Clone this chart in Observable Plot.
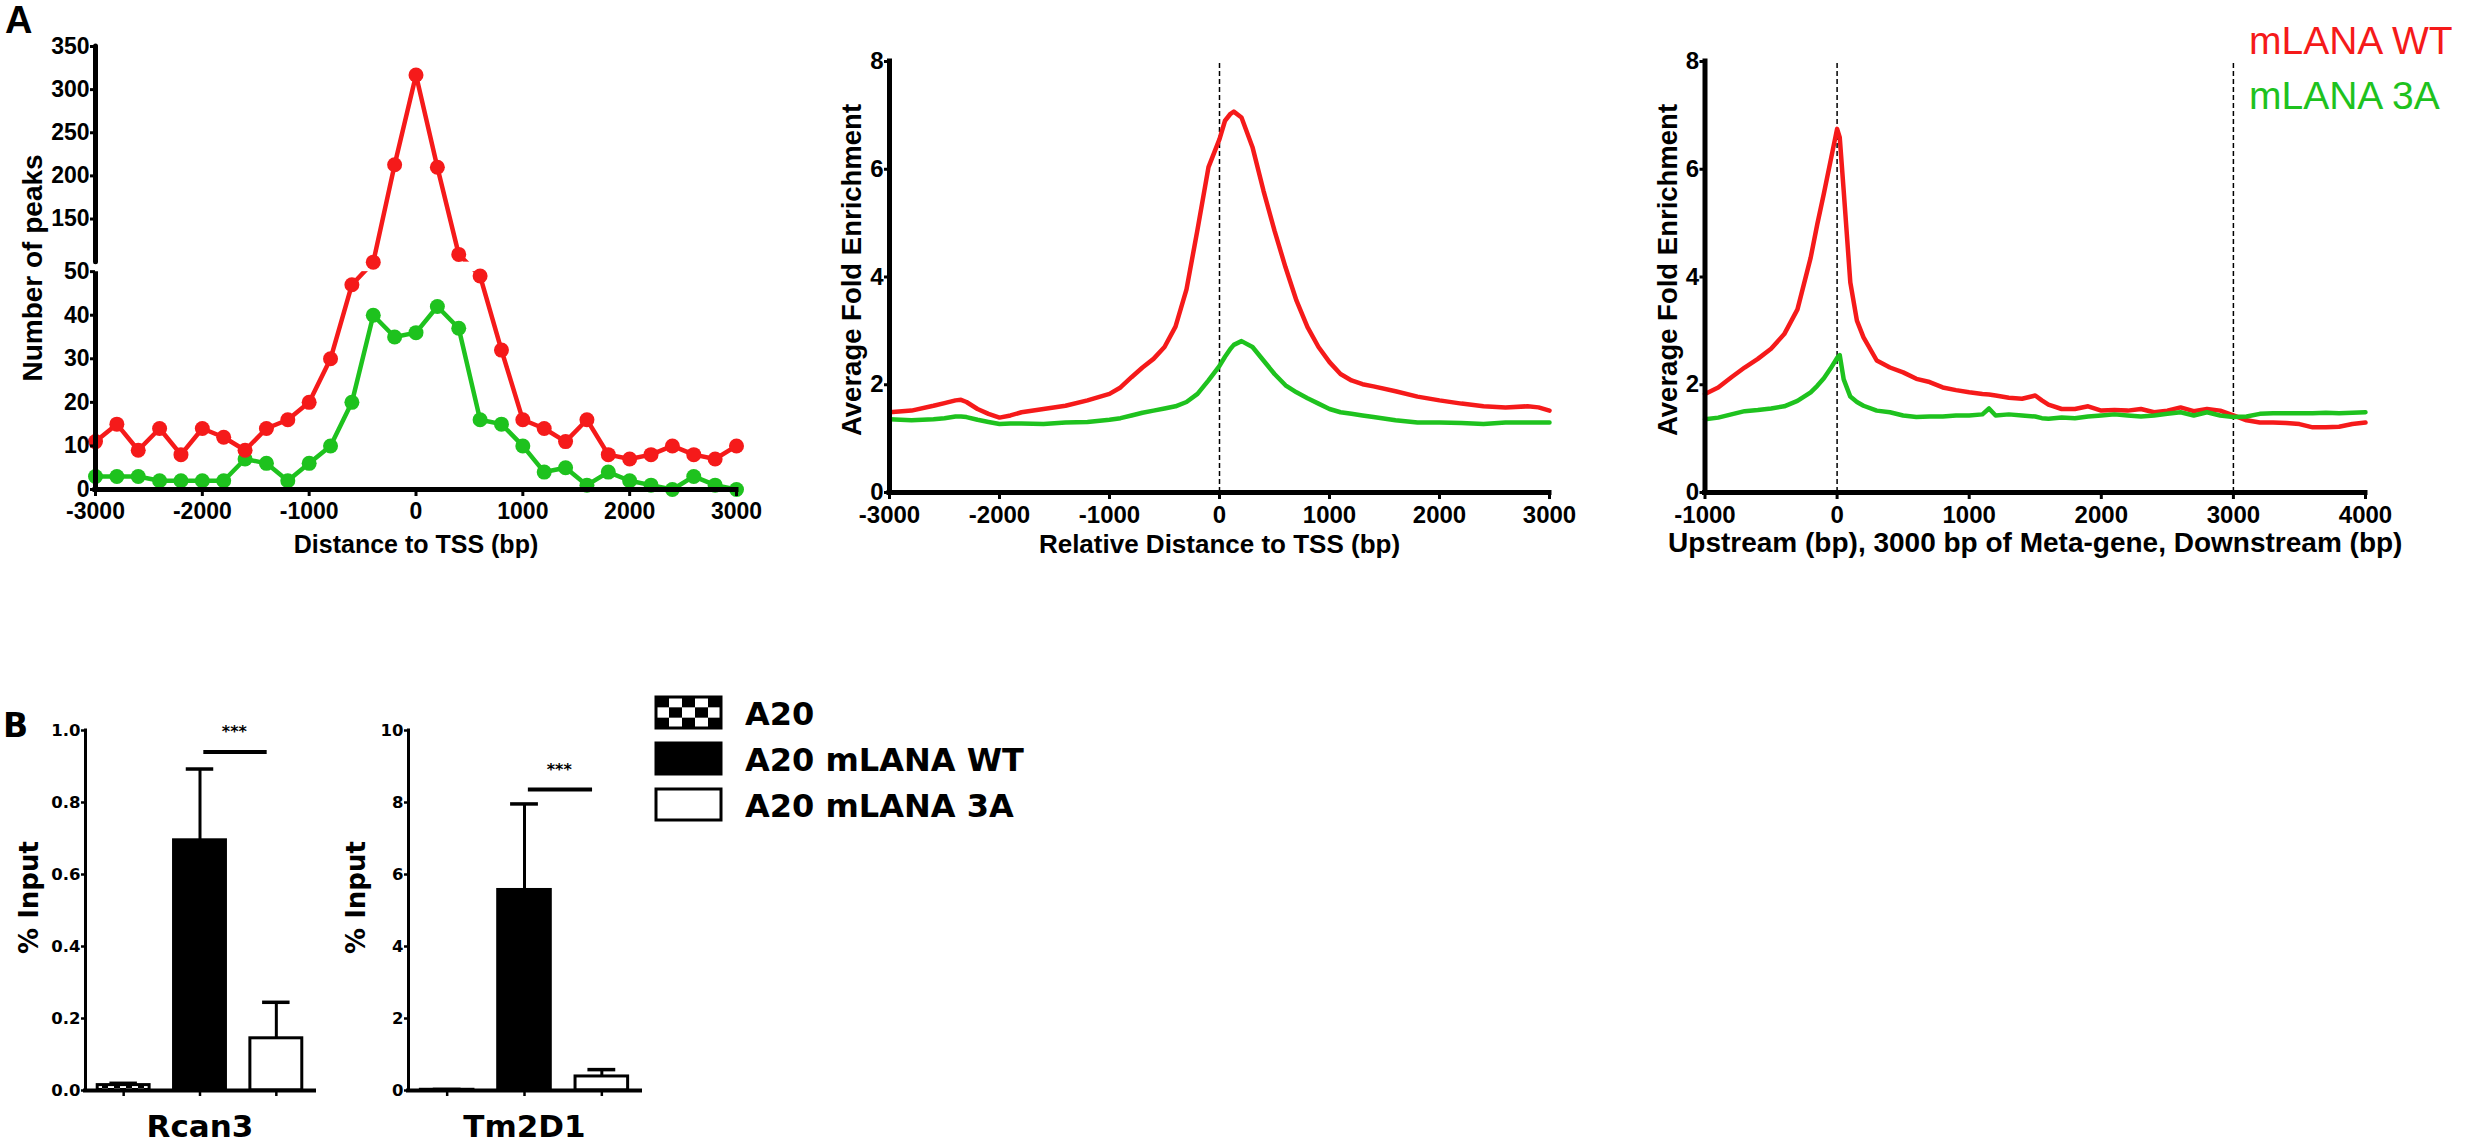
<!DOCTYPE html>
<html>
<head>
<meta charset="utf-8">
<script src="https://cdn.jsdelivr.net/npm/d3@7"></script>
<script src="https://cdn.jsdelivr.net/npm/@observablehq/plot@0.6"></script>
<style>
  html, body { margin: 0; padding: 0; background: #fff; }
  #root { position: relative; width: 2470px; height: 1144px; overflow: hidden; background: #fff; }
  .panel { position: absolute; top: 0; }
  .panel svg { display: block; overflow: visible; }
  #overlay { position: absolute; left: 0; top: 0; pointer-events: none; }
</style>
</head>
<body>
<div id="root">
  <div class="panel" id="a1" style="left:0px;width:760px;"></div>
  <div class="panel" id="a2" style="left:820px;width:780px;"></div>
  <div class="panel" id="a3" style="left:1640px;width:830px;"></div>
  <div class="panel" id="b1" style="left:0px;top:680px;width:330px;"></div>
  <div class="panel" id="b2" style="left:330px;top:680px;width:330px;"></div>
  <svg id="overlay" width="2470" height="1144">
    <defs>
      <pattern id="checker" width="12" height="12" patternUnits="userSpaceOnUse">
        <rect width="12" height="12" fill="white"></rect>
        <rect width="6" height="6" fill="black"></rect>
        <rect x="6" y="6" width="6" height="6" fill="black"></rect>
      </pattern>
    </defs>
  </svg>
</div>
<script>
// ---------------- DATA ----------------
// Panel A (left): number of peaks per 200 bp bin around the TSS
const tssBins = [-3000, -2800, -2600, -2400, -2200, -2000, -1800, -1600, -1400, -1200, -1000, -800, -600, -400, -200, 0,
                 200, 400, 600, 800, 1000, 1200, 1400, 1600, 1800, 2000, 2200, 2400, 2600, 2800, 3000];
const peaksWT = [11, 15, 9, 14, 8, 14, 12, 9, 14, 16, 20, 30, 47, 100, 213, 317,
                 210, 109, 49, 32, 16, 14, 11, 16, 8, 7, 8, 10, 8, 7, 10];
const peaks3A = [3, 3, 3, 2, 2, 2, 2, 7, 6, 2, 6, 10, 20, 40, 35, 36,
                 42, 37, 16, 15, 10, 4, 5, 1, 4, 2, 1, 0, 3, 1, 0];
const peaksYTicks = [0, 10, 20, 30, 40, 50, 150, 200, 250, 300, 350];
const peaksAxisBreak = [50, 100];
const peaksXTicks = [-3000, -2000, -1000, 0, 1000, 2000, 3000];

// Panel A (middle): average fold enrichment around the TSS
const tssProfileX = [-3000, -2800, -2600, -2500, -2400, -2350, -2300, -2200, -2100, -2000, -1900, -1800, -1600, -1400, -1200,
                     -1000, -900, -800, -700, -600, -500, -400, -300, -200, -100, 0, 50, 100, 130, 200, 300, 400, 500,
                     600, 700, 800, 900, 1000, 1100, 1200, 1300, 1400, 1600, 1800, 2000, 2200, 2400, 2600, 2800, 2900, 3000];
const tssProfileWT = [1.49, 1.52, 1.61, 1.66, 1.71, 1.72, 1.68, 1.55, 1.46, 1.39, 1.43, 1.49, 1.55, 1.61, 1.71,
                      1.83, 1.95, 2.14, 2.32, 2.48, 2.70, 3.08, 3.77, 4.88, 6.04, 6.56, 6.90, 7.03, 7.07, 6.96, 6.41, 5.60, 4.86,
                      4.18, 3.56, 3.07, 2.70, 2.42, 2.20, 2.08, 2.01, 1.97, 1.88, 1.78, 1.71, 1.65, 1.60, 1.58, 1.60, 1.58, 1.52];
const tssProfile3A = [1.36, 1.34, 1.36, 1.38, 1.41, 1.41, 1.40, 1.35, 1.31, 1.27, 1.28, 1.28, 1.27, 1.30, 1.31,
                      1.35, 1.38, 1.43, 1.48, 1.52, 1.56, 1.60, 1.68, 1.83, 2.08, 2.35, 2.52, 2.67, 2.74, 2.81, 2.70, 2.45, 2.20,
                      1.99, 1.86, 1.75, 1.65, 1.55, 1.49, 1.46, 1.43, 1.40, 1.34, 1.30, 1.30, 1.29, 1.27, 1.30, 1.30, 1.30, 1.30];
const tssProfileXTicks = [-3000, -2000, -1000, 0, 1000, 2000, 3000];
const tssMarker = [0];

// Panel A (right): meta-gene profile
const metaX = [-1000, -900, -800, -700, -600, -500, -400, -300, -200, -150, -100, -50, 0, 20, 50, 100, 150, 200,
               300, 400, 500, 600, 700, 800, 900, 1000, 1100, 1150, 1200, 1300, 1400, 1500, 1550,
               1600, 1700, 1800, 1900, 2000, 2100, 2200, 2300, 2400, 2500, 2600, 2700, 2800, 2900, 3000,
               3100, 3200, 3300, 3400, 3500, 3600, 3700, 3800, 3900, 4000];
const metaWT = [1.83, 1.95, 2.14, 2.32, 2.48, 2.67, 2.94, 3.40, 4.36, 4.98, 5.55, 6.15, 6.75, 6.59, 5.60, 3.90, 3.19, 2.88,
                2.45, 2.32, 2.23, 2.11, 2.05, 1.95, 1.90, 1.86, 1.83, 1.82, 1.80, 1.76, 1.74, 1.80, 1.71,
                1.63, 1.55, 1.55, 1.60, 1.52, 1.53, 1.52, 1.55, 1.49, 1.52, 1.58, 1.51, 1.55, 1.52, 1.43,
                1.34, 1.30, 1.30, 1.29, 1.27, 1.21, 1.21, 1.22, 1.27, 1.30];
const meta3A = [1.36, 1.39, 1.45, 1.51, 1.53, 1.56, 1.60, 1.70, 1.86, 1.98, 2.12, 2.30, 2.50, 2.55, 2.10, 1.78, 1.68, 1.61,
                1.52, 1.49, 1.43, 1.40, 1.41, 1.41, 1.43, 1.43, 1.45, 1.56, 1.43, 1.45, 1.43, 1.41, 1.38,
                1.37, 1.39, 1.38, 1.41, 1.43, 1.45, 1.43, 1.41, 1.43, 1.46, 1.49, 1.43, 1.49, 1.43, 1.40,
                1.41, 1.46, 1.47, 1.47, 1.47, 1.47, 1.48, 1.47, 1.48, 1.49];
const metaXTicks = [-1000, 0, 1000, 2000, 3000, 4000];
const metaMarkers = [0, 3000];
const foldTicks = [0, 2, 4, 6, 8];

const seriesNames = ["mLANA WT", "mLANA 3A"];

// Panel B: ChIP-qPCR
const conditions = ["A20", "A20 mLANA WT", "A20 mLANA 3A"];
const genes = ["Rcan3", "Tm2D1"];
const rcan3Mean = [0.015, 0.695, 0.145];
const rcan3Err = [0.005, 0.198, 0.100];
const tm2d1Mean = [0.02, 5.57, 0.39];
const tm2d1Err = [0.01, 2.39, 0.19];
const rcan3Ticks = [0, 0.2, 0.4, 0.6, 0.8, 1.0];
const tm2d1Ticks = [0, 2, 4, 6, 8, 10];
const sigLevels = [0.94, 8.36];
const sigLabel = "***";

// ---------------- STYLE ----------------
const FONT_A = "'Liberation Sans', Arial, sans-serif";
const FONT_B = "'DejaVu Sans', sans-serif";
const RED = "#f51a1a";
const GREEN = "#1ec21e";
const barFills = ["url(#checker)", "black", "white"];

function svgStyle(font, size) {
  return `font-family: ${font}; font-weight: bold; font-size: ${size}px; color: black; background: transparent; overflow: visible;`;
}

// ---------------- PANEL A1 (broken y axis) ----------------
{
  const wt = tssBins.map((x, i) => ({x, y: peaksWT[i]}));
  const a3 = tssBins.map((x, i) => ({x, y: peaks3A[i]}));
  const [xMin, xMax] = d3.extent(tssBins);
  const yTop = d3.max(peaksYTicks);
  // broken-axis transform: lower segment 0–50 and upper segment 100–350 with a small gap between
  const brokenY = d3.scaleLinear().domain([0, peaksAxisBreak[0], peaksAxisBreak[1], yTop]).range([0, 218, 227.5, 443.3]);
  const chart = Plot.plot({
    width: 760, height: 570,
    marginLeft: 95, marginRight: 24, marginTop: 46, marginBottom: 81,
    x: {domain: [xMin, xMax]},
    y: {transform: brokenY, domain: [0, brokenY(yTop)]},
    style: svgStyle(FONT_A, 23),
    marks: [
      Plot.line(a3, {x: "x", y: "y", stroke: GREEN, strokeWidth: 4.5}),
      Plot.line(wt, {x: "x", y: "y", stroke: RED, strokeWidth: 4.5}),
      Plot.rect([peaksAxisBreak], {x1: () => xMin, x2: () => xMax, y1: d => d[0], y2: d => d[1], fill: "white"}),
      Plot.dot(a3, {x: "x", y: "y", r: 7.5, fill: GREEN}),
      Plot.dot(wt, {x: "x", y: "y", r: 7.5, fill: RED}),
      Plot.ruleY([0], {strokeWidth: 5, strokeLinecap: "square"}),
      Plot.ruleX([xMin], {y1: () => 0, y2: () => peaksAxisBreak[0], strokeWidth: 5}),
      Plot.ruleX([xMin], {y1: () => peaksAxisBreak[1], y2: () => yTop, strokeWidth: 5, strokeLinecap: "round"}),
      Plot.axisX({ticks: peaksXTicks, tickFormat: d => String(d), tickSize: 7, tickPadding: 6, strokeWidth: 3,
                  fontSize: 23, fontWeight: "bold", label: null}),
      // axis ticks live in the scale's (transformed) space; labels show the original counts
      Plot.axisY({ticks: peaksYTicks.map(brokenY), tickFormat: t => String(Math.round(brokenY.invert(t))),
                  tickSize: 5, tickPadding: 1, strokeWidth: 3, fontSize: 23, fontWeight: "bold", label: null}),
      Plot.text(["Number of peaks"], {frameAnchor: "left", textAnchor: "middle", lineAnchor: "middle", rotate: -90,
                                      dx: -62, fontSize: 28, fontWeight: "bold"}),
      Plot.text(["Distance to TSS (bp)"], {frameAnchor: "bottom", textAnchor: "middle", lineAnchor: "middle",
                                           dy: 55, fontSize: 25, fontWeight: "bold"})
    ]
  });
  document.getElementById("a1").appendChild(chart);
}

// ---------------- PROFILE PANELS ----------------
function profilePanel(el, opts) {
  const wt = opts.x.map((x, i) => ({x, y: opts.wt[i]}));
  const a3 = opts.x.map((x, i) => ({x, y: opts.a3[i]}));
  const [xMin, xMax] = d3.extent(opts.x);
  const yTop = d3.max(foldTicks);
  const chart = Plot.plot({
    width: opts.width, height: 570,
    marginLeft: opts.marginLeft, marginRight: opts.marginRight, marginTop: 61, marginBottom: 78,
    x: {domain: [xMin, xMax]},
    y: {domain: [0, yTop]},
    style: svgStyle(FONT_A, 24),
    marks: [
      Plot.ruleX(opts.markers, {y1: () => 0, y2: () => yTop, strokeDasharray: "5,3", strokeWidth: 1.5}),
      Plot.line(wt, {x: "x", y: "y", stroke: RED, strokeWidth: 4.5}),
      Plot.line(a3, {x: "x", y: "y", stroke: GREEN, strokeWidth: 4.5}),
      Plot.ruleY([0], {strokeWidth: 5, strokeLinecap: "square"}),
      Plot.ruleX([xMin], {strokeWidth: 5, strokeLinecap: "square"}),
      Plot.axisX({ticks: opts.xTicks, tickFormat: d => String(d), tickSize: 7, tickPadding: 6, strokeWidth: 3,
                  fontSize: 24, fontWeight: "bold", label: null}),
      Plot.axisY({ticks: foldTicks, tickFormat: d => String(d), tickSize: 5, tickPadding: 1, strokeWidth: 3,
                  fontSize: 24, fontWeight: "bold", label: null}),
      Plot.text(["Average Fold Enrichment"], {frameAnchor: "left", textAnchor: "middle", lineAnchor: "middle", rotate: -90,
                                              dx: opts.yTitleDx, dy: -7, fontSize: 27.5, fontWeight: "bold"}),
      Plot.text([opts.xTitle], {frameAnchor: "bottom", textAnchor: "middle", lineAnchor: "middle",
                                dy: opts.xTitleDy, fontSize: opts.xTitleSize, fontWeight: "bold"})
    ]
  });
  document.getElementById(el).appendChild(chart);
}

profilePanel("a2", {
  x: tssProfileX, wt: tssProfileWT, a3: tssProfile3A, xTicks: tssProfileXTicks, markers: tssMarker,
  width: 780, marginLeft: 69, marginRight: 51, yTitleDx: -37,
  xTitle: "Relative Distance to TSS (bp)", xTitleSize: 26, xTitleDy: 52
});
profilePanel("a3", {
  x: metaX, wt: metaWT, a3: meta3A, xTicks: metaXTicks, markers: metaMarkers,
  width: 830, marginLeft: 64.5, marginRight: 105, yTitleDx: -37,
  xTitle: "Upstream (bp), 3000 bp of Meta-gene, Downstream (bp)", xTitleSize: 28, xTitleDy: 51
});

// ---------------- PANEL B ----------------
function barPanel(el, gene, means, errs, ticks, fmt, sig, opts) {
  const BAR_HALF = 0.34, CAP_HALF = 0.18;
  const rows = conditions.map((c, i) => ({c, i, mean: means[i], err: errs[i]}));
  const yTop = d3.max(ticks);
  const idx = rows.map(d => d.i);
  const wtIdx = conditions.indexOf("A20 mLANA WT");
  const mutIdx = conditions.indexOf("A20 mLANA 3A");
  const chart = Plot.plot({
    width: 330, height: 464,
    marginLeft: opts.marginLeft, marginRight: opts.marginRight, marginTop: 50, marginBottom: 54,
    x: {domain: [-0.5, 2.5]},
    y: {domain: [0, yTop]},
    style: svgStyle(FONT_B, 16.5),
    marks: [
      Plot.ruleX(rows, {x: "i", y1: "mean", y2: d => d.mean + d.err, strokeWidth: 3}),
      Plot.ruleY(rows, {y: d => d.mean + d.err, x1: d => d.i - CAP_HALF, x2: d => d.i + CAP_HALF, strokeWidth: 3.5}),
      ...rows.map((r, k) => Plot.rectY([r], {x1: d => d.i - BAR_HALF, x2: d => d.i + BAR_HALF, y1: () => 0, y2: "mean",
                                             fill: barFills[k], stroke: "black", strokeWidth: 3})),
      Plot.ruleY([sig], {y: d => d, x1: () => wtIdx + 0.05, x2: () => mutIdx - 0.12, strokeWidth: 4}),
      Plot.text([sigLabel], {x: () => (wtIdx + mutIdx) / 2 - 0.05, y: () => sig, textAnchor: "middle", lineAnchor: "bottom",
                             dy: -15, fontSize: 16, fontWeight: "bold"}),
      Plot.ruleY([0], {strokeWidth: 4, strokeLinecap: "square"}),
      Plot.ruleX([-0.5], {strokeWidth: 3, strokeLinecap: "square"}),
      Plot.axisX({ticks: idx, tickFormat: () => "", tickSize: 6, strokeWidth: 2.5, label: null}),
      Plot.axisY({ticks, tickFormat: fmt, tickSize: 4, tickPadding: 1, strokeWidth: 2.5, fontSize: 16.5, fontWeight: "bold", label: null}),
      Plot.text(["% Input"], {frameAnchor: "left", textAnchor: "middle", lineAnchor: "middle", rotate: -90,
                              dx: opts.yTitleDx, dy: -13, fontSize: 26, fontWeight: "bold"}),
      Plot.text([gene], {frameAnchor: "bottom", textAnchor: "middle", lineAnchor: "middle", dy: 37, fontSize: 31, fontWeight: "bold"})
    ]
  });
  document.getElementById(el).appendChild(chart);
}

barPanel("b1", genes[0], rcan3Mean, rcan3Err, rcan3Ticks, d3.format(".1f"), sigLevels[0], {marginLeft: 85, marginRight: 16, yTitleDx: -56});
barPanel("b2", genes[1], tm2d1Mean, tm2d1Err, tm2d1Ticks, d => String(d), sigLevels[1], {marginLeft: 78, marginRight: 20, yTitleDx: -52});

// ---------------- OVERLAY: panel letters and legends ----------------
{
  const ov = d3.select("#overlay");
  ov.append("text").attr("x", 5).attr("y", 33).attr("font-family", FONT_A).attr("font-weight", "bold")
    .attr("font-size", 38).text("A");
  ov.append("text").attr("x", 3).attr("y", 737).attr("font-family", FONT_B).attr("font-weight", "bold")
    .attr("font-size", 33).text("B");

  // Series legend (panel A)
  const seriesColors = [RED, GREEN];
  seriesNames.forEach((name, k) => {
    ov.append("text").attr("x", 2249).attr("y", 54 + k * 55).attr("font-family", FONT_A)
      .attr("font-size", 39).attr("fill", seriesColors[k]).text(name);
  });

  // Condition legend (panel B)
  const boxX = 656, boxW = 65, boxH = 31, rowY = [697, 743, 789];
  conditions.forEach((name, k) => {
    const y = rowY[k];
    const g = ov.append("g");
    if (k === 0) {
      g.append("rect").attr("x", boxX).attr("y", y).attr("width", boxW).attr("height", boxH).attr("fill", "white");
      const cols = 5, rws = 3, cw = boxW / cols, ch = boxH / rws;
      for (let r = 0; r < rws; r++) for (let c = 0; c < cols; c++) {
        if ((r + c) % 2 === 0) g.append("rect").attr("x", boxX + c * cw).attr("y", y + r * ch)
          .attr("width", cw).attr("height", ch).attr("fill", "black");
      }
      g.append("rect").attr("x", boxX).attr("y", y).attr("width", boxW).attr("height", boxH)
        .attr("fill", "none").attr("stroke", "black").attr("stroke-width", 3);
    } else {
      g.append("rect").attr("x", boxX).attr("y", y).attr("width", boxW).attr("height", boxH)
        .attr("fill", barFills[k]).attr("stroke", "black").attr("stroke-width", 3);
    }
    g.append("text").attr("x", 745).attr("y", y + boxH / 2 + 12).attr("font-family", FONT_B)
      .attr("font-weight", "bold").attr("font-size", 32).text(name);
  });
}
</script>
</body>
</html>
